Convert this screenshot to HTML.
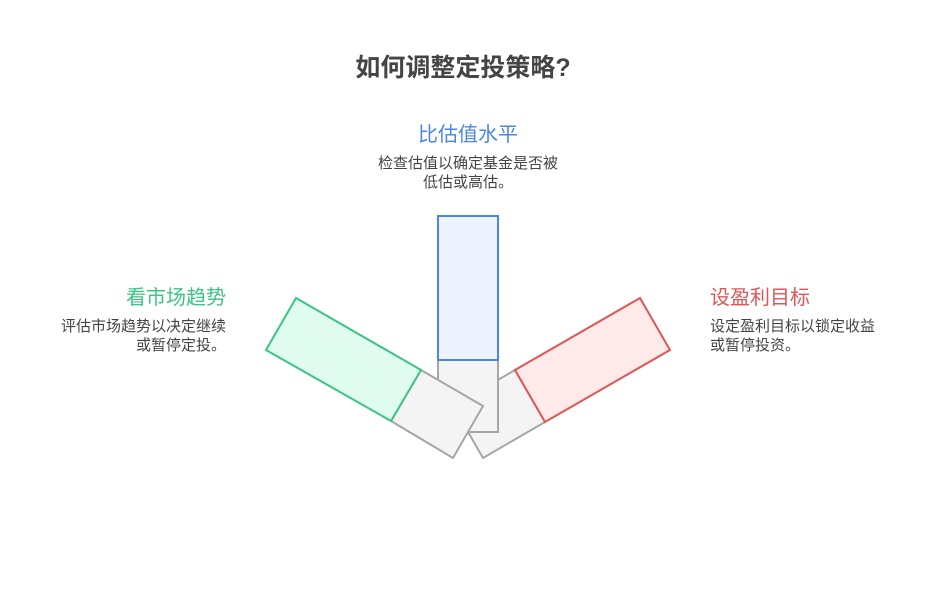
<!DOCTYPE html>
<html><head><meta charset="utf-8"><style>
body{margin:0;width:936px;height:612px;background:#fff;font-family:"Liberation Sans","Noto Sans CJK SC",sans-serif;position:relative;overflow:hidden}
.t{position:absolute;white-space:nowrap}
</style></head><body>
<div class="t" style="left:-5px;width:936px;text-align:center;top:48px;font-size:25px;font-weight:bold;color:#444">如何调整定投策略?</div>
<div class="t" style="left:368px;width:200px;text-align:center;top:118px;font-size:20px;color:#4a86e8">比估值水平</div>
<div class="t" style="left:318px;width:300px;text-align:center;top:154px;font-size:15px;color:#444;line-height:19px">检查估值以确定基金是否被<br>低估或高估。</div>
<div class="t" style="left:26px;width:200px;text-align:right;top:281px;font-size:20px;color:#3cc484">看市场趋势</div>
<div class="t" style="left:0px;width:226px;text-align:right;top:317px;font-size:15px;color:#444;line-height:19px">评估市场趋势以决定继续<br>或暂停定投。</div>
<div class="t" style="left:710px;top:281px;font-size:20px;color:#e05555">设盈利目标</div>
<div class="t" style="left:710px;top:317px;font-size:15px;color:#444;line-height:19px">设定盈利目标以锁定收益<br>或暂停投资。</div>
<svg width="936" height="612" style="position:absolute;left:0;top:0">
<g stroke-width="2" stroke-linejoin="miter">
<polygon points="515,370 545,422 483,458 453,406" fill="#f4f4f4" stroke="#a6a6a6"/>
<polygon points="640,298 670,350 545,422 515,370" fill="#ffeaea" stroke="#e05555"/>
<rect x="438" y="360" width="60" height="72" fill="#f4f4f4" stroke="#a6a6a6"/>
<rect x="438" y="216" width="60" height="144" fill="#ecf2fe" stroke="#4a86e8"/>
<polygon points="421,370 391,421 453,458 483,406" fill="#f4f4f4" stroke="#a6a6a6"/>
<polygon points="296,298 266,350 391,421 421,370" fill="#e0fcef" stroke="#3cc484"/>
</g>
</svg>
</body></html>
